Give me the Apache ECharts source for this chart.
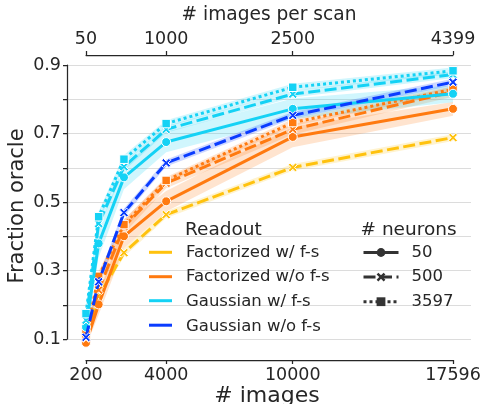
<!DOCTYPE html>
<html>
<head>
<meta charset="utf-8">
<script src="https://cdn.jsdelivr.net/npm/echarts@6/dist/echarts.min.js"></script>
<style>
html,body{margin:0;padding:0;background:#fff;}
#chart{width:484px;height:404px;}
</style>
</head>
<body>
<div id="chart"></div>
<script>
// ---- data ----
const xImages = [200, 800, 2000, 4000, 10000, 17596];
const bottomTicks = [200, 4000, 10000, 17596];
const bottomTickLabels = ['200', '4000', '10000', '17596'];
const topTickLabels = ['50', '1000', '2500', '4399'];
const readouts = ['Factorized w/ f-s', 'Factorized w/o f-s', 'Gaussian w/ f-s', 'Gaussian w/o f-s'];
const neuronLabels = ['50', '500', '3597'];

const factFs500   = [0.110, 0.225, 0.352, 0.463, 0.601, 0.688];
const factNoFs50  = [0.089, 0.201, 0.400, 0.502, 0.690, 0.772];
const factNoFs500 = [0.103, 0.243, 0.428, 0.555, 0.712, 0.822];
const factNoFs3597= [0.115, 0.283, 0.434, 0.563, 0.732, 0.829];
const gaussFs50   = [0.135, 0.379, 0.572, 0.675, 0.772, 0.816];
const gaussFs500  = [0.155, 0.437, 0.603, 0.712, 0.815, 0.872];
const gaussFs3597 = [0.174, 0.457, 0.625, 0.729, 0.835, 0.883];
const gaussNoFs500= [0.105, 0.267, 0.469, 0.614, 0.753, 0.850];

// confidence half-widths
const factFs500Ci   = [0.006, 0.012, 0.012, 0.010, 0.010, 0.010];
const factNoFs50Ci  = [0.010, 0.030, 0.035, 0.030, 0.030, 0.020];
const factNoFs500Ci = [0.010, 0.020, 0.020, 0.015, 0.015, 0.015];
const factNoFs3597Ci= [0.010, 0.015, 0.015, 0.010, 0.010, 0.010];
const gaussFs50Ci   = [0.010, 0.040, 0.035, 0.030, 0.030, 0.025];
const gaussFs500Ci  = [0.010, 0.015, 0.012, 0.010, 0.010, 0.010];
const gaussFs3597Ci = [0.010, 0.015, 0.012, 0.010, 0.010, 0.010];
const gaussNoFs500Ci= [0.008, 0.015, 0.012, 0.010, 0.010, 0.010];

// ---- styles ----
const FONT = 'DejaVu Sans';
const TXT = '#262626';
const colors = {
  'Factorized w/ f-s': '#ffc20e',
  'Factorized w/o f-s': '#ff7a10',
  'Gaussian w/ f-s': '#14d2f5',
  'Gaussian w/o f-s': '#0a3cff'
};
const XPATH = 'path://M2,0 L5,3 L8,0 L10,2 L7,5 L10,8 L8,10 L5,7 L2,10 L0,8 L3,5 L0,2 Z';
const styleOf = {
  '50':   {type: 'solid', symbol: 'circle', size: 9},
  '500':  {type: [12, 4.5], symbol: XPATH, size: 9},
  '3597': {type: [3, 3], symbol: 'rect', size: 8.5}
};

const lines = [
  {readout: 'Factorized w/ f-s', n: '500', y: factFs500, ci: factFs500Ci},
  {readout: 'Factorized w/o f-s', n: '50', y: factNoFs50, ci: factNoFs50Ci},
  {readout: 'Factorized w/o f-s', n: '500', y: factNoFs500, ci: factNoFs500Ci},
  {readout: 'Factorized w/o f-s', n: '3597', y: factNoFs3597, ci: factNoFs3597Ci},
  {readout: 'Gaussian w/ f-s', n: '50', y: gaussFs50, ci: gaussFs50Ci},
  {readout: 'Gaussian w/ f-s', n: '500', y: gaussFs500, ci: gaussFs500Ci},
  {readout: 'Gaussian w/ f-s', n: '3597', y: gaussFs3597, ci: gaussFs3597Ci},
  {readout: 'Gaussian w/o f-s', n: '500', y: gaussNoFs500, ci: gaussNoFs500Ci}
];

const series = [];
lines.forEach((l, i) => {
  const c = colors[l.readout];
  const lo = l.y.map((v, k) => v - l.ci[k]);
  const hi = l.y.map((v, k) => v + l.ci[k]);
  series.push({
    type: 'custom', xAxisIndex: 1, yAxisIndex: 1, silent: true, clip: false, z: 1,
    data: xImages.map((x, k) => [x, lo[k], hi[k]]),
    encode: {x: 0, y: [1, 2]},
    renderItem: function (params, api) {
      if (params.dataIndex !== 0) return null;
      const pts = [];
      xImages.forEach((x, k) => pts.push(api.coord([x, hi[k]])));
      for (let k = xImages.length - 1; k >= 0; k--) pts.push(api.coord([xImages[k], lo[k]]));
      return {type: 'polygon', shape: {points: pts}, style: {fill: c, opacity: 0.2}};
    }
  });
});
lines.forEach((l, i) => {
  const c = colors[l.readout];
  const s = styleOf[l.n];
  series.push({
    name: l.readout + ' ' + l.n,
    type: 'line', xAxisIndex: 1, yAxisIndex: 1,
    data: xImages.map((x, k) => [x, l.y[k]]),
    symbol: s.symbol, symbolSize: s.size, showSymbol: true,
    itemStyle: {color: c, borderColor: '#fff', borderWidth: 1},
    lineStyle: {color: c, width: 3, type: s.type},
    clip: false, z: 3 + i
  });
});
// legend-only series
readouts.forEach(r => {
  series.push({name: r, type: 'scatter', data: [], xAxisIndex: 1, yAxisIndex: 1,
    itemStyle: {color: colors[r]}});
});
neuronLabels.forEach(n => {
  const s = styleOf[n];
  series.push({name: n, type: 'line', data: [], xAxisIndex: 1, yAxisIndex: 1,
    symbol: s.symbol, symbolSize: s.size,
    itemStyle: {color: '#333', borderColor: '#333', borderWidth: 0},
    lineStyle: {color: '#333', width: 3, type: s.type}});
});

// legend line swatches for the readout legend
const rowY = [252.3, 276.7, 300.7, 325.2];
const swatches = readouts.map((r, i) => ({
  type: 'rect', silent: true, z: 100, zlevel: 1,
  shape: {x: 149, y: rowY[i] - 1.5, width: 23, height: 3},
  style: {fill: colors[r], lineWidth: 0}
}));

const chart = echarts.init(document.getElementById('chart'), null, {renderer: 'canvas'});
chart.setOption({
  animation: false,
  backgroundColor: '#fff',
  textStyle: {fontFamily: FONT},
  grid: [
    {left: 67, right: 13, top: 65, bottom: 65},
    {left: 86, right: 31, top: 65, bottom: 65}
  ],
  xAxis: [
    {gridIndex: 0, type: 'value', min: 0, max: 1, show: false},
    {gridIndex: 1, type: 'value', position: 'bottom', min: 200, max: 17596, offset: 21,
      axisLine: {show: true, lineStyle: {color: TXT, width: 1.25}},
      axisTick: {show: true, length: 4, customValues: bottomTicks, lineStyle: {color: TXT, width: 1.25}},
      axisLabel: {customValues: bottomTicks, margin: 6, color: TXT, fontSize: 17.5, fontFamily: FONT,
        formatter: v => bottomTickLabels[bottomTicks.indexOf(v)]},
      splitLine: {show: false}},
    {gridIndex: 1, type: 'value', position: 'top', min: 200, max: 17596, offset: 10,
      axisLine: {show: true, lineStyle: {color: TXT, width: 1.25}},
      axisTick: {show: true, length: 4, customValues: bottomTicks, lineStyle: {color: TXT, width: 1.25}},
      axisLabel: {customValues: bottomTicks, margin: 7, color: TXT, fontSize: 17.5, fontFamily: FONT,
        formatter: v => topTickLabels[bottomTicks.indexOf(v)]},
      splitLine: {show: false}}
  ],
  yAxis: [
    {gridIndex: 0, type: 'value', min: 0.1, max: 0.9, interval: 0.1,
      axisLine: {show: true, lineStyle: {color: TXT, width: 1.25}},
      axisTick: {show: true, length: 4, lineStyle: {color: TXT, width: 1.25}},
      axisLabel: {margin: 6, color: TXT, fontSize: 17.5, fontFamily: FONT,
        formatter: v => (Math.round(v * 10) % 2 === 1 ? v.toFixed(1) : '')},
      splitLine: {show: true, lineStyle: {color: '#dcdcdc', width: 1}}},
    {gridIndex: 1, type: 'value', min: 0.1, max: 0.9, show: false, splitLine: {show: false}}
  ],
  legend: [
    {data: readouts.map(r => ({name: r, icon: 'rect', itemStyle: {color: 'rgba(0,0,0,0)', borderWidth: 0}})),
      orient: 'vertical', left: 149, top: 244, padding: 0, itemWidth: 23, itemHeight: 3,
      itemGap: 7.6, selectedMode: false,
      textStyle: {color: TXT, fontSize: 16.5, fontFamily: FONT, lineHeight: 16, padding: [0, 0, 0, 9]}},
    {data: neuronLabels, orient: 'vertical', left: 362, top: 244, padding: 0, itemWidth: 35, itemHeight: 11,
      itemGap: 7.6, selectedMode: false,
      itemStyle: {borderWidth: 0}, lineStyle: {width: 3},
      textStyle: {color: TXT, fontSize: 16.5, fontFamily: FONT, lineHeight: 16, padding: [0, 0, 0, 8]}}
  ],
  graphic: [
    {type: 'text', x: 269, y: 15, style: {text: '# images per scan', fill: TXT, font: '18.6px "DejaVu Sans"', textAlign: 'center', textVerticalAlign: 'middle'}},
    {type: 'text', x: 267, y: 396, style: {text: '# images', fill: TXT, font: '22px "DejaVu Sans"', textAlign: 'center', textVerticalAlign: 'middle'}},
    {type: 'text', x: 18, y: 206, rotation: Math.PI / 2, style: {text: 'Fraction oracle', fill: TXT, font: '21px "DejaVu Sans"', textAlign: 'center', textVerticalAlign: 'middle'}},
    {type: 'text', x: 185, y: 230, style: {text: 'Readout', fill: TXT, font: '18.5px "DejaVu Sans"', textAlign: 'left', textVerticalAlign: 'middle'}},
    {type: 'text', x: 360.5, y: 230, style: {text: '# neurons', fill: TXT, font: '18.5px "DejaVu Sans"', textAlign: 'left', textVerticalAlign: 'middle'}}
  ].concat(swatches),
  series: series
});
</script>
</body>
</html>
